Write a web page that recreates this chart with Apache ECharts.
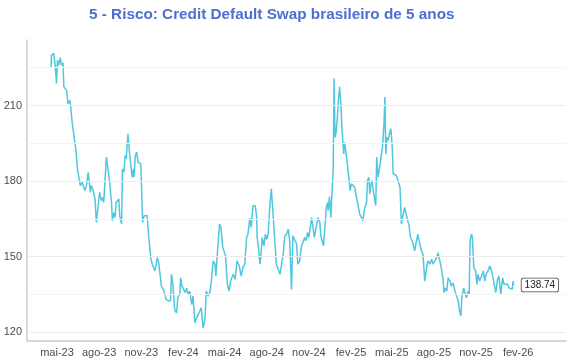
<!DOCTYPE html>
<html><head><meta charset="utf-8">
<script src="https://cdn.jsdelivr.net/npm/echarts@6/dist/echarts.min.js"></script>
<style>html,body{margin:0;padding:0;background:#fff}#c{width:570px;height:360px}</style>
</head><body><div id="c"></div>
<script>
const titleText = '5 - Risco: Credit Default Swap brasileiro de 5 anos';

const dates2023 = ['2023-04-18','2023-04-19','2023-04-24','2023-04-27','2023-04-30','2023-05-02','2023-05-05','2023-05-08','2023-05-11','2023-05-14','2023-05-16','2023-05-22','2023-05-25','2023-05-29','2023-05-31',
'2023-06-03','2023-06-07','2023-06-11','2023-06-15','2023-06-18','2023-06-21','2023-06-25','2023-06-29',
'2023-07-01','2023-07-05','2023-07-08','2023-07-10','2023-07-13','2023-07-15','2023-07-19','2023-07-23','2023-07-26','2023-07-30',
'2023-08-02','2023-08-06','2023-08-09','2023-08-11','2023-08-14','2023-08-17','2023-08-20','2023-08-24','2023-08-28','2023-08-30',
'2023-09-02','2023-09-05','2023-09-07','2023-09-10','2023-09-13','2023-09-15','2023-09-19','2023-09-21','2023-09-24','2023-09-27','2023-09-29',
'2023-10-03','2023-10-06','2023-10-09','2023-10-12','2023-10-15','2023-10-16','2023-10-19','2023-10-22','2023-10-25','2023-10-29','2023-10-31',
'2023-11-04','2023-11-07','2023-11-11','2023-11-14','2023-11-17','2023-11-22','2023-11-25','2023-11-28',
'2023-12-01','2023-12-04','2023-12-06','2023-12-09','2023-12-12','2023-12-15','2023-12-18','2023-12-21','2023-12-25','2023-12-30'];
const values2023 = [225,230,230.7,226,218.7,228,226,229,226,227,217.4,216,210.7,212,209.4,
203.4,198,192.8,184.2,183.5,178.2,179.5,180.2,
176.2,178.9,183.5,182.9,175.5,178.2,176.2,172.9,163.6,164.2,
175.5,172.2,173.5,171.5,180.9,189.5,190.1,179.5,171.5,164.2,
167.5,165.5,171.5,172.2,172.9,166.2,162.9,184.8,183.5,190.1,188.8,
198.8,192.1,191.5,181.5,184.8,181.5,190.1,191.5,187.5,188.2,186.8,
163.6,166.2,165.5,166.2,158.3,149,147,147.6,
144.3,143.6,149.6,147.6,143,138.3,137.6,136.3,133,132.4];

const dates2024 = ['2024-01-04','2024-01-06','2024-01-09','2024-01-13','2024-01-17','2024-01-20','2024-01-24','2024-01-26','2024-01-29',
'2024-02-02','2024-02-05','2024-02-08','2024-02-11','2024-02-15','2024-02-19','2024-02-22','2024-02-26',
'2024-03-01','2024-03-04','2024-03-08','2024-03-11','2024-03-15','2024-03-19','2024-03-22','2024-03-26','2024-03-30',
'2024-04-02','2024-04-06','2024-04-10','2024-04-12','2024-04-16','2024-04-20','2024-04-23','2024-04-27','2024-04-30',
'2024-05-03','2024-05-07','2024-05-11','2024-05-14','2024-05-18','2024-05-20','2024-05-24','2024-05-28',
'2024-06-02','2024-06-06','2024-06-10','2024-06-14','2024-06-18','2024-06-21','2024-06-25','2024-06-28',
'2024-07-02','2024-07-07','2024-07-10','2024-07-11','2024-07-14','2024-07-17','2024-07-19','2024-07-22','2024-07-26','2024-07-29',
'2024-08-01','2024-08-04','2024-08-08','2024-08-11','2024-08-15','2024-08-19','2024-08-22','2024-08-26','2024-08-30',
'2024-09-02','2024-09-06','2024-09-09','2024-09-13','2024-09-17','2024-09-20','2024-09-24','2024-09-27',
'2024-10-01','2024-10-05','2024-10-08','2024-10-12','2024-10-16','2024-10-19','2024-10-23','2024-10-26','2024-10-29',
'2024-11-01','2024-11-04','2024-11-07','2024-11-10','2024-11-13','2024-11-16','2024-11-18','2024-11-21','2024-11-25','2024-11-27','2024-11-30',
'2024-12-03','2024-12-06','2024-12-09','2024-12-12','2024-12-13','2024-12-16','2024-12-19','2024-12-22','2024-12-24','2024-12-26','2024-12-28','2024-12-30'];
const values2024 = [132.6,143,139,129,127.7,133.7,135,141.6,138.3,
139,135.7,137.6,135,136.3,131,134.3,123.7,
125.7,125,128.4,129.7,121.7,125,136.3,134.3,135.7,
140.3,148.3,147,142.3,153.6,162.9,161.6,153.6,154.3,
150.3,139,136.3,140.3,139.6,143,141,148.3,
146.3,142.3,145.6,147,157.6,158.9,165.3,161.6,
170.2,170.2,165.5,157.6,153.6,147,149.6,157.6,154.3,158.9,
156.9,158.9,170.9,176.9,166.2,165.5,147,147.6,143,
143.6,151,158,158.9,160.9,156.3,137,158.3,
157.6,155,147,148.3,154.3,155.6,157.6,156.3,159.6,
157.6,158.3,165.5,166.2,157.6,158.3,162.9,165.5,163.6,158.3,158.9,
154.3,161.6,169.5,171.5,168.2,173.8,165.5,177.5,184.2,220.7,197.4,198.8];

const dates2025 = ['2025-01-02','2025-01-04','2025-01-07','2025-01-10','2025-01-12','2025-01-16','2025-01-18','2025-01-21','2025-01-24','2025-01-27','2025-01-30',
'2025-02-02','2025-02-06','2025-02-09','2025-02-13','2025-02-16','2025-02-20','2025-02-24','2025-02-27',
'2025-03-03','2025-03-07','2025-03-09','2025-03-12','2025-03-14','2025-03-16','2025-03-19','2025-03-22','2025-03-25','2025-03-27','2025-03-29',
'2025-04-01','2025-04-05','2025-04-08','2025-04-11','2025-04-14','2025-04-16','2025-04-18','2025-04-20','2025-04-23','2025-04-26','2025-04-29',
'2025-05-02','2025-05-04','2025-05-08','2025-05-11','2025-05-15','2025-05-19','2025-05-22','2025-05-26','2025-05-29',
'2025-06-02','2025-06-04','2025-06-06','2025-06-08','2025-06-09','2025-06-11','2025-06-14','2025-06-16','2025-06-20','2025-06-24','2025-06-27',
'2025-07-01','2025-07-05','2025-07-08','2025-07-12','2025-07-16','2025-07-19','2025-07-23','2025-07-27','2025-07-30',
'2025-08-03','2025-08-07','2025-08-10','2025-08-14','2025-08-17','2025-08-21','2025-08-23','2025-08-26','2025-08-29',
'2025-09-01','2025-09-05','2025-09-08','2025-09-12','2025-09-16','2025-09-19','2025-09-23','2025-09-26','2025-09-29',
'2025-10-01','2025-10-05','2025-10-07','2025-10-11','2025-10-15','2025-10-17','2025-10-19','2025-10-22','2025-10-24','2025-10-27','2025-10-31',
'2025-11-03','2025-11-05','2025-11-09','2025-11-13','2025-11-17','2025-11-20','2025-11-23','2025-11-27',
'2025-12-01','2025-12-05','2025-12-08','2025-12-12','2025-12-14','2025-12-18','2025-12-21','2025-12-25','2025-12-29'];
const values2025 = [204.8,210.7,217.4,210.7,201.4,190.8,195.4,195.4,186.8,186.2,176.2,
178.9,179.5,177.5,173.5,172.9,166.9,165.5,164.2,
169.5,171.5,180.2,181.5,174.9,178.2,180.2,175.5,174.9,170.2,189.5,
181.5,186.2,185.5,194.1,202.8,213.4,190.8,197.4,196.1,198.8,200.8,
193.5,182.9,182.2,182.2,181.5,177.5,162.9,166.9,169.5,
170.2,164.9,165.5,162.2,160.3,157.6,158.3,155.6,152.3,156.3,158.9,
155,152.3,151,140.3,145.6,148.3,147,149,147,
146.3,149.6,151.6,151,145.6,141,135.7,137.6,136.3,
141.6,140.3,138.3,139.6,136.3,137,132.4,128.4,126.4,
133.7,137.6,137,133.7,136.3,135,156.3,158.9,157.6,145.6,144.3,
139,143,140.3,142.3,144.3,140.3,143,144.3,
146.3,144.3,141.6,142.3,135.7,141,142.3,135,141.6];

const dates2026 = ['2026-01-01','2026-01-05','2026-01-09','2026-01-12','2026-01-16','2026-01-19','2026-01-21','2026-01-22'];
const values2026 = [139,138.3,139,137.6,138.3,137,140.3,138.74];

const tickDates = ['2023-05-01','2023-08-01','2023-11-01','2024-02-01','2024-05-01','2024-08-01','2024-11-01','2025-02-01','2025-05-01','2025-08-01','2025-11-01','2026-02-01'];
const tickLabels = ['mai-23','ago-23','nov-23','fev-24','mai-24','ago-24','nov-24','fev-25','mai-25','ago-25','nov-25','fev-26'];
const yTicks = [120,150,180,210];
const yMinorGrid = [135,165,195,225];

function toTs(s){const p=s.split(/[- :]/).map(Number);return Date.UTC(p[0],p[1]-1,p[2],p[3]||0,p[4]||0);}

const allDates = dates2023.concat(dates2024, dates2025, dates2026);
const allValues = values2023.concat(values2024, values2025, values2026);
const seriesData = allDates.map((d,i)=>[toTs(d), allValues[i]]);
const tickTs = tickDates.map(toTs);
const labelMap = {}; tickTs.forEach((t,i)=>labelMap[t]=tickLabels[i]);

const FONT = 'Liberation Sans, Arial, Helvetica, sans-serif';
const chart = echarts.init(document.getElementById('c'), null, {renderer:'canvas'});
const gridLines = yTicks.map(v=>({yAxis:v, lineStyle:{color:'#ebebeb', width:1, type:'solid'}}))
  .concat(yMinorGrid.map(v=>({yAxis:v, lineStyle:{color:'#f4f4f4', width:1, type:'solid'}})));

chart.setOption({
  animation:false,
  backgroundColor:'#ffffff',
  title:{text:titleText, left:84, top:2, textStyle:{color:'#4c6fd1', fontSize:15.3, fontWeight:'bold', fontFamily:FONT}},
  grid:{left:27, right:4, top:40, bottom:19, containLabel:false},
  xAxis:{
    type:'value',
    min: toTs('2023-02-24 12:00'),
    max: toTs('2026-05-16 10:00'),
    scale:true,
    splitLine:{show:false},
    axisTick:{show:false},
    axisLine:{show:true, lineStyle:{color:'#cccccc', width:1.5}},
    axisLabel:{customValues: tickTs, formatter:(v)=>labelMap[v]||'', color:'#4d4d4d', fontSize:11, fontFamily:FONT, margin:6, hideOverlap:false}
  },
  yAxis:{
    type:'value',
    min:116.5, max:236,
    splitLine:{show:false},
    axisTick:{show:false},
    axisLine:{show:true, lineStyle:{color:'#cccccc', width:1.5}},
    axisLabel:{customValues: yTicks, color:'#4d4d4d', fontSize:11, fontFamily:FONT, margin:5}
  },
  series:[
    {type:'line', data:[], z:1, silent:true,
     markLine:{silent:true, symbol:'none', label:{show:false}, animation:false, data:gridLines}},
    {type:'line', data:seriesData, z:3, showSymbol:false, symbol:'none',
     lineStyle:{color:'#4fc7df', width:1.5}, itemStyle:{color:'#4fc7df'},
     endLabel:{show:true, formatter:(p)=>p.value[1].toFixed(2), distance:8,
       color:'#222', fontSize:10, fontFamily:FONT, backgroundColor:'#ffffff',
       borderColor:'#444', borderWidth:0.8, borderRadius:2, padding:[2,3,1,3]}}
  ]
});
</script></body></html>
